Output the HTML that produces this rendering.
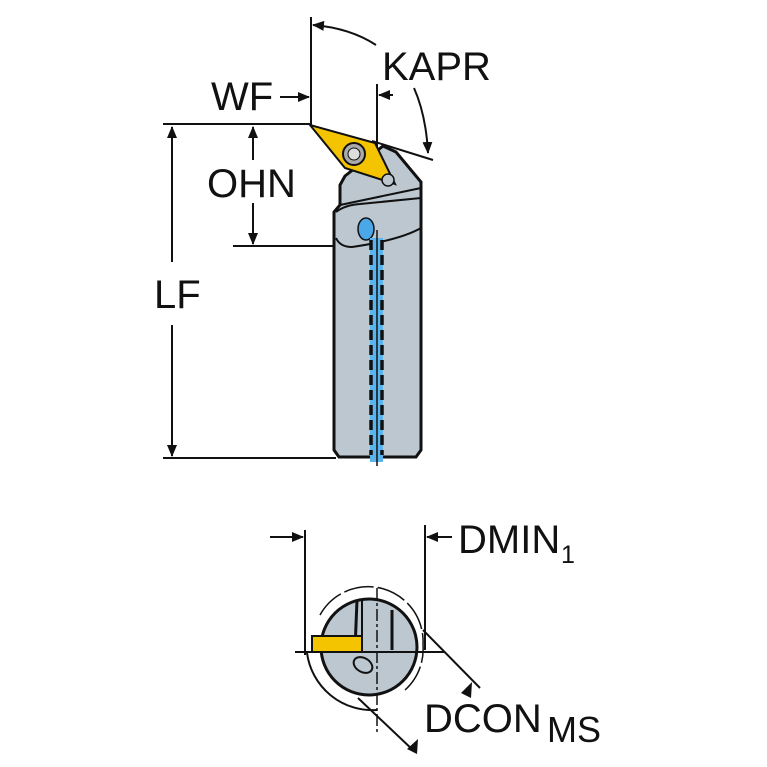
<!DOCTYPE html>
<html><head><meta charset="utf-8"><style>
html,body{margin:0;padding:0;background:#fff;}
svg{display:block}
text{font-family:"Liberation Sans",sans-serif;fill:#111;}
</style></head><body>
<svg width="767" height="767" viewBox="0 0 767 767" xmlns="http://www.w3.org/2000/svg">
<defs>
<marker id="ar" markerWidth="12" markerHeight="10" refX="11" refY="5" orient="auto" markerUnits="userSpaceOnUse"><path d="M0,0 L12,5 L0,10 z" fill="#111"/></marker>
</defs>
<g stroke="#111" stroke-width="2" fill="none">
<line x1="311" y1="17" x2="311" y2="125"/>
<line x1="163" y1="124" x2="311" y2="124"/>
<line x1="233" y1="246" x2="336" y2="246"/>
<line x1="163" y1="458" x2="336" y2="458"/>
<line x1="172" y1="262" x2="172" y2="127" marker-end="url(#ar)"/>
<line x1="172" y1="325" x2="172" y2="456" marker-end="url(#ar)"/>
<line x1="253" y1="160" x2="253" y2="127" marker-end="url(#ar)"/>
<line x1="253" y1="203" x2="253" y2="244" marker-end="url(#ar)"/>
<line x1="280" y1="97" x2="309" y2="97" marker-end="url(#ar)"/>
<line x1="377" y1="84" x2="377" y2="150"/>
<line x1="393" y1="95" x2="379" y2="95" marker-end="url(#ar)"/>
<path d="M376 45 Q350 28 313 25" marker-end="url(#ar)"/>
<path d="M414 88 Q426 115 428 153" marker-end="url(#ar)"/>
<line x1="372" y1="141" x2="433" y2="160"/>
</g>
<path d="M345 176 L383 146 L396 152 L421 182 L421 450 L416 457 L339 457 L334 450 L334 212 L340 205 L340 185 Z" fill="#bcc7d0" stroke="#111" stroke-width="3"/>
<path d="M340 205 L421 188" stroke="#111" stroke-width="2" fill="none"/>
<path d="M336 212 Q345 205 360 204 L421 198 M336 238 Q340 247 352 247 Q400 240 421 228" stroke="#111" stroke-width="2" fill="none"/>
<ellipse cx="366" cy="229" rx="8" ry="11" fill="#4aa8e8" stroke="#111" stroke-width="1.5"/>
<rect x="370" y="238" width="13" height="224" fill="#5bb4ec"/>
<line x1="371" y1="240" x2="371" y2="455" stroke="#111" stroke-width="3.5" stroke-dasharray="10,5"/>
<line x1="382" y1="240" x2="382" y2="455" stroke="#111" stroke-width="3.5" stroke-dasharray="10,5"/>
<line x1="377" y1="230" x2="377" y2="466" stroke="#111" stroke-width="1.5"/>
<path d="M310 125 L375 143 L395 184 L345 168 Z" fill="#f5c400" stroke="#111" stroke-width="2"/>
<circle cx="354" cy="154" r="11" fill="#aaa" stroke="#111" stroke-width="2"/>
<circle cx="354" cy="154" r="6" fill="#ddd" stroke="#111" stroke-width="1"/>
<circle cx="388" cy="180" r="6" fill="#bcc7d0" stroke="#111" stroke-width="1.5"/>
<g stroke="#111" stroke-width="2" fill="none">
<line x1="305" y1="530" x2="305" y2="655"/>
<line x1="425" y1="525" x2="425" y2="650"/>
<line x1="270" y1="537" x2="303" y2="537" marker-end="url(#ar)"/>
<line x1="452" y1="537" x2="427" y2="537" marker-end="url(#ar)"/>
</g>
<circle cx="369" cy="647" r="48" fill="#bcc7d0" stroke="#111" stroke-width="3"/>
<g stroke="#111" fill="none">
<path d="M320 615 A55 55 0 0 1 423 645 A55 55 0 0 1 405 690" stroke-width="1.5" stroke-dasharray="30,4"/>
<path d="M307 653 A66 66 0 0 0 377 710" stroke-width="2"/>
<line x1="357" y1="600" x2="355" y2="650" stroke-width="3"/>
<line x1="362" y1="600" x2="362" y2="650" stroke-width="2"/>
<line x1="392" y1="610" x2="392" y2="650" stroke-width="3"/>
<line x1="295" y1="652" x2="445" y2="652" stroke-width="2"/>
<line x1="377" y1="588" x2="377" y2="735" stroke-width="1.5" stroke-dasharray="12,3,3,3"/>
<ellipse cx="363" cy="665" rx="10" ry="7" transform="rotate(30 363 665)" stroke-width="2" fill="#bcc7d0"/>
<line x1="423" y1="630" x2="480" y2="688" stroke-width="2"/>
<line x1="358" y1="698" x2="415" y2="752" stroke-width="2"/>
</g>
<path d="M461 693 L472 682 L471 698 Z" fill="#111"/>
<path d="M407 749 L418 739 L417 754 Z" fill="#111"/>
<rect x="312" y="636" width="50" height="16" fill="#f5c400" stroke="#111" stroke-width="2"/>
<text x="382" y="80" font-size="40">KAPR</text>
<text x="211" y="110" font-size="40">WF</text>
<text x="207" y="197" font-size="40">OHN</text>
<text x="154" y="308" font-size="40">LF</text>
<text x="458" y="553" font-size="40">DMIN</text>
<text x="561" y="563" font-size="25">1</text>
<text x="424" y="732" font-size="40">DCON</text>
<text x="547" y="742" font-size="36">MS</text>
</svg>
</body></html>
